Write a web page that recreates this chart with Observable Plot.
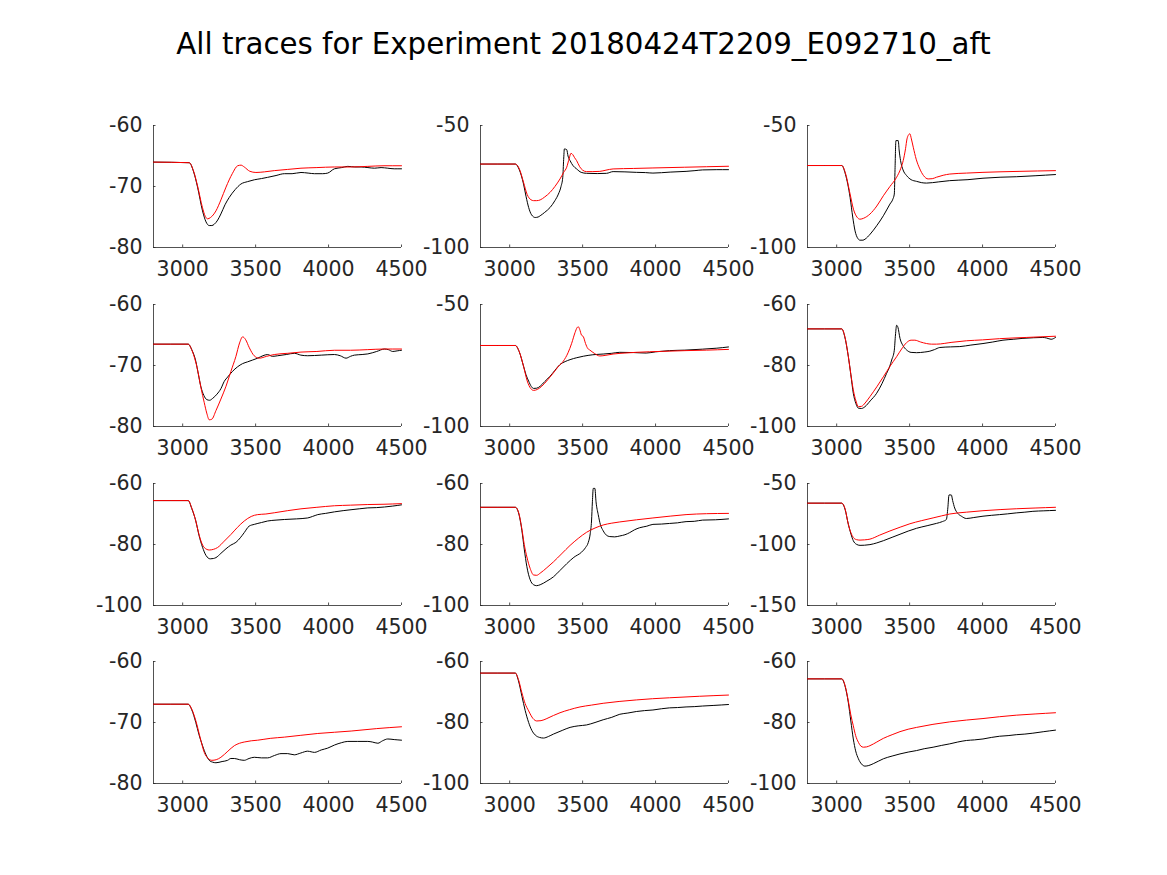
<!DOCTYPE html>
<html><head><meta charset="utf-8">
<script src="https://cdn.jsdelivr.net/npm/d3@7"></script>
<script src="https://cdn.jsdelivr.net/npm/@observablehq/plot@0.6"></script>
<style>
body{margin:0;background:#fff;}
#fig{position:relative;width:1167px;height:875px;background:#fff;font-family:"DejaVu Sans",sans-serif;overflow:hidden;}
#title{position:absolute;left:0;width:1167px;top:30px;text-align:center;font-size:29.3px;line-height:29px;color:#000;white-space:nowrap;}
.panel{position:absolute;}
</style></head><body>
<div id="fig"><div id="title">All traces for Experiment 20180424T2209_E092710_aft</div></div>
<script>
// ---- data ----
const xDomain = [2800, 4500];
const xTicks = [3000, 3500, 4000, 4500];
const yDomains = [
  [-80, -60], [-100, -50], [-100, -50],
  [-80, -60], [-100, -50], [-100, -60],
  [-100, -60], [-100, -60], [-150, -50],
  [-80, -60], [-100, -60], [-100, -60]
];
const yTickSets = [
  [-80, -70, -60], [-100, -50], [-100, -50],
  [-80, -70, -60], [-100, -50], [-100, -80, -60],
  [-100, -80, -60], [-100, -80, -60], [-150, -100, -50],
  [-80, -70, -60], [-100, -80, -60], [-100, -80, -60]
];

// measured traces (black)
const black1 = [[2800,-66],[3045,-66.1],[3075,-67.6],[3102,-70.1],[3136,-74],[3160,-75.8],[3182,-76.4],[3200,-76.4],[3216,-76.2],[3240,-75.5],[3262,-74.5],[3290,-73],[3319,-71.8],[3360,-70.5],[3399,-69.6],[3445,-69.2],[3491,-68.9],[3540,-68.7],[3582,-68.5],[3640,-68.2],[3697,-67.9],[3750,-67.9],[3811,-67.7],[3860,-67.8],[3903,-67.9],[3960,-67.9],[3994,-67.8],[4040,-67.1],[4090,-66.9],[4132,-66.7],[4180,-66.8],[4223,-66.8],[4270,-66.9],[4315,-67.0],[4360,-66.9],[4406,-67.0],[4450,-67.1],[4500,-67.1]];
const black2 = [[2800,-65.8],[3039,-65.8],[3065,-68],[3095,-74],[3112,-79],[3130,-83.6],[3150,-86.6],[3175,-87.7],[3195,-87.5],[3209,-87],[3240,-85.6],[3277,-83.6],[3310,-80.8],[3334,-78.1],[3352,-75],[3364,-71.2],[3370,-64],[3375,-59.6],[3391,-59.9],[3400,-62.5],[3414,-64.4],[3435,-66.5],[3459,-67.8],[3490,-69.2],[3527,-69.6],[3600,-69.7],[3664,-69.6],[3709,-68.9],[3790,-69],[3868,-69.2],[3930,-69.3],[3982,-69.5],[4100,-69.1],[4209,-68.8],[4270,-68.5],[4323,-68.2],[4420,-68.1],[4500,-68.1]];
const black3 = [[2800,-66.4],[3035,-66.4],[3060,-70],[3092,-79.5],[3110,-87.5],[3126,-93.2],[3145,-96.3],[3160,-97],[3180,-97],[3194,-96.6],[3230,-94.5],[3274,-91.1],[3320,-87],[3365,-82.2],[3385,-80.2],[3395,-78.1],[3400,-68],[3406,-56.2],[3422,-56.2],[3428,-60],[3438,-64.4],[3455,-68.2],[3479,-70.5],[3510,-72.2],[3548,-72.9],[3580,-73.4],[3616,-73.6],[3700,-73.1],[3775,-72.6],[3900,-72.2],[4003,-71.6],[4120,-71.2],[4231,-71],[4360,-70.6],[4500,-70.1]];
const black4 = [[2800,-66.5],[3038,-66.5],[3062,-67.4],[3090,-69.3],[3108,-71.5],[3125,-73.5],[3145,-74.9],[3166,-75.6],[3185,-75.7],[3205,-75.4],[3235,-74.7],[3262,-73.8],[3285,-72.6],[3308,-71.9],[3340,-71],[3377,-70.2],[3410,-69.7],[3445,-69.4],[3480,-69.1],[3514,-68.8],[3550,-68.4],[3582,-68.2],[3615,-68.5],[3651,-68.4],[3710,-68.2],[3766,-68.0],[3810,-68.3],[3857,-68.4],[3950,-68.3],[4040,-68.2],[4080,-68.4],[4120,-68.8],[4150,-68.5],[4177,-68.3],[4230,-68.2],[4269,-68.1],[4330,-67.7],[4383,-67.3],[4410,-67.4],[4440,-67.7],[4470,-67.6],[4500,-67.5]];
const black5 = [[2800,-66.8],[3039,-66.8],[3065,-69.3],[3095,-75.3],[3112,-78.8],[3130,-81.4],[3148,-83.6],[3164,-84.4],[3185,-84.3],[3209,-83.5],[3240,-81.6],[3277,-79.4],[3310,-77],[3345,-74.6],[3380,-73.4],[3414,-72.6],[3460,-71.8],[3505,-71.2],[3570,-70.6],[3641,-70.3],[3700,-70],[3755,-69.6],[3850,-69.7],[3936,-69.9],[4000,-69.4],[4095,-68.9],[4200,-68.7],[4323,-68.3],[4420,-67.9],[4500,-67.4]];
const black6 = [[2800,-68],[3035,-68],[3055,-70.5],[3080,-77.1],[3097,-83],[3114,-89.1],[3132,-92.5],[3149,-94],[3170,-94.1],[3194,-93.5],[3230,-91.6],[3274,-89.1],[3310,-86],[3342,-82.6],[3362,-80.5],[3377,-78.2],[3395,-75],[3403,-70],[3411,-66.8],[3420,-67.5],[3434,-71.1],[3455,-73.5],[3479,-74.9],[3510,-75.7],[3548,-75.8],[3600,-75.6],[3639,-75.3],[3670,-74.8],[3707,-74.1],[3780,-73.9],[3844,-73.8],[3920,-73.3],[4003,-72.8],[4070,-72.3],[4140,-71.7],[4210,-71.4],[4277,-71.1],[4350,-70.9],[4413,-70.8],[4440,-71],[4470,-71.4],[4500,-70.8]];
const black7 = [[2800,-65.6],[3038,-65.6],[3062,-68.2],[3090,-72.3],[3112,-77],[3136,-80.9],[3160,-83.6],[3189,-84.7],[3210,-84.6],[3228,-84.3],[3262,-82.9],[3297,-81.4],[3330,-80.2],[3365,-79.3],[3395,-77.8],[3422,-76.1],[3455,-74],[3491,-73.4],[3540,-72.8],[3582,-72.3],[3640,-72],[3697,-71.8],[3780,-71.6],[3857,-71.3],[3890,-70.8],[3926,-70.2],[3980,-69.8],[4040,-69.3],[4100,-68.9],[4154,-68.6],[4210,-68.3],[4269,-68.0],[4330,-67.9],[4383,-67.7],[4440,-67.4],[4500,-67.0]];
const black8 = [[2800,-67.8],[3039,-67.8],[3060,-69.5],[3084,-75.5],[3100,-81.5],[3118,-87.3],[3140,-91.5],[3164,-93.2],[3185,-93.5],[3209,-93.2],[3255,-92],[3300,-90.6],[3345,-88.5],[3391,-86.3],[3440,-84.2],[3493,-82.5],[3520,-81],[3539,-79.3],[3552,-76.5],[3561,-72.3],[3567,-66],[3573,-61.6],[3584,-61.6],[3592,-66],[3607,-70.2],[3622,-73.5],[3641,-75.5],[3662,-76.9],[3686,-77.4],[3720,-77.5],[3755,-77.2],[3790,-76.8],[3823,-76.1],[3855,-75.2],[3891,-74.5],[3940,-74],[3982,-73.4],[4040,-73.3],[4095,-73.1],[4150,-72.9],[4209,-72.5],[4265,-72.4],[4323,-72.0],[4410,-71.9],[4500,-71.6]];
const black9 = [[2800,-66.1],[3035,-66.1],[3057,-71],[3080,-83.5],[3098,-91.5],[3114,-96.9],[3135,-99.8],[3160,-100.7],[3190,-100.6],[3228,-100.1],[3275,-98.7],[3320,-96.9],[3380,-94.1],[3434,-91.6],[3490,-89],[3548,-86.7],[3620,-84.6],[3684,-82.7],[3725,-81.2],[3752,-79.5],[3762,-70],[3770,-59.4],[3786,-59.4],[3795,-64],[3809,-70.1],[3830,-74.5],[3855,-76.8],[3889,-78.7],[3940,-77.9],[4003,-76.8],[4060,-76.1],[4117,-75.5],[4170,-74.9],[4231,-74.1],[4290,-73.5],[4345,-72.8],[4420,-72.4],[4500,-72.0]];
const black10 = [[2800,-67],[3038,-67],[3062,-67.9],[3090,-70],[3112,-72],[3136,-73.8],[3160,-75.3],[3182,-76.2],[3205,-76.5],[3228,-76.6],[3270,-76.4],[3308,-76.2],[3330,-75.9],[3354,-75.9],[3390,-76.1],[3422,-76.2],[3455,-75.9],[3491,-75.7],[3540,-75.8],[3582,-75.8],[3630,-75.4],[3674,-75.1],[3720,-75.1],[3765,-75.3],[3810,-75],[3857,-74.7],[3880,-74.8],[3903,-74.9],[3950,-74.5],[3994,-74.2],[4040,-73.7],[4090,-73.3],[4132,-73.1],[4200,-73.1],[4269,-73.1],[4300,-73.2],[4338,-73.4],[4370,-73],[4406,-72.7],[4450,-72.8],[4500,-72.9]];
const black11 = [[2800,-63.8],[3039,-63.8],[3060,-66.3],[3084,-71.4],[3106,-76],[3130,-80],[3152,-82.6],[3175,-84.1],[3205,-84.9],[3232,-85.1],[3265,-84.6],[3300,-83.8],[3360,-82.6],[3414,-81.6],[3470,-81.1],[3527,-80.8],[3585,-80],[3641,-79.1],[3700,-78.3],[3755,-77.3],[3810,-76.9],[3868,-76.4],[3925,-76.1],[3982,-75.9],[4040,-75.5],[4095,-75.2],[4150,-75.1],[4209,-74.9],[4265,-74.8],[4323,-74.6],[4400,-74.4],[4500,-74.1]];
const black12 = [[2800,-65.7],[3035,-65.7],[3057,-68],[3080,-73.5],[3097,-79.5],[3114,-85.4],[3130,-89.3],[3149,-91.9],[3170,-93.6],[3194,-94.3],[3220,-94.1],[3251,-93.5],[3285,-92.7],[3320,-91.9],[3380,-91],[3434,-90.3],[3490,-89.7],[3548,-89.2],[3600,-88.6],[3661,-88.1],[3720,-87.5],[3775,-87.0],[3830,-86.4],[3889,-85.9],[3945,-85.7],[4003,-85.4],[4060,-84.9],[4117,-84.5],[4175,-84.3],[4231,-84.0],[4290,-83.8],[4345,-83.5],[4420,-83],[4500,-82.5]];

// model traces (red)
const red1 = [[2800,-66],[3045,-66.1],[3075,-67.5],[3102,-69.9],[3135,-73.4],[3155,-74.9],[3171,-75.3],[3190,-75.1],[3228,-74.0],[3262,-72.2],[3297,-70.1],[3340,-67.9],[3377,-66.6],[3400,-66.5],[3422,-66.8],[3460,-67.5],[3502,-67.7],[3560,-67.6],[3628,-67.4],[3720,-67.2],[3811,-67.0],[3920,-66.9],[4040,-66.8],[4150,-66.8],[4269,-66.7],[4380,-66.6],[4500,-66.6]];
const red2 = [[2800,-65.8],[3039,-65.8],[3065,-67.6],[3095,-73.3],[3120,-78.3],[3145,-80.4],[3164,-80.8],[3185,-80.8],[3209,-80.5],[3240,-79.3],[3277,-77.4],[3310,-75],[3345,-71.9],[3370,-69.2],[3391,-67.1],[3408,-63.5],[3420,-61.4],[3432,-61.9],[3445,-63.2],[3459,-64.4],[3480,-66.9],[3500,-68.3],[3527,-68.9],[3570,-68.9],[3618,-68.8],[3660,-68.3],[3709,-67.8],[3850,-67.6],[3982,-67.4],[4200,-67.1],[4500,-66.7]];
const red3 = [[2800,-66.4],[3035,-66.4],[3060,-69.5],[3092,-78.1],[3115,-84.3],[3140,-87.6],[3160,-88.4],[3185,-88],[3228,-86.3],[3275,-83],[3320,-78.8],[3365,-75],[3411,-71.2],[3440,-67.5],[3456,-64.4],[3472,-59.5],[3482,-55.5],[3490,-54.1],[3502,-53.4],[3512,-55.5],[3525,-58.9],[3545,-63.8],[3570,-67.8],[3595,-70.5],[3627,-71.9],[3655,-71.8],[3684,-71.2],[3730,-70.4],[3775,-69.9],[3890,-69.5],[4003,-69.2],[4250,-68.8],[4500,-68.5]];
const red4 = [[2800,-66.5],[3038,-66.5],[3065,-67.6],[3102,-70.7],[3125,-73.6],[3148,-76.1],[3165,-77.8],[3182,-78.9],[3200,-78.8],[3228,-77.4],[3262,-75.5],[3297,-73.4],[3330,-71],[3365,-68.5],[3390,-66.3],[3411,-65.3],[3430,-65.7],[3457,-67.1],[3490,-68.4],[3525,-68.8],[3575,-68.5],[3628,-68.2],[3720,-68],[3811,-67.8],[3920,-67.7],[4040,-67.5],[4150,-67.5],[4269,-67.4],[4380,-67.3],[4500,-67.3]];
const red5 = [[2800,-66.8],[3039,-66.8],[3065,-69.2],[3095,-75.3],[3120,-81.3],[3145,-84.5],[3164,-85.2],[3190,-84.8],[3220,-83.5],[3260,-80.9],[3300,-78.0],[3335,-75.3],[3368,-73.2],[3400,-69.8],[3425,-65.9],[3448,-61.5],[3462,-59.5],[3470,-59.1],[3480,-60.2],[3492,-62.5],[3505,-63.2],[3520,-66],[3535,-68],[3550,-68.7],[3580,-70],[3618,-71.1],[3660,-70.8],[3709,-70.3],[3790,-69.9],[3868,-69.6],[4050,-69.2],[4209,-68.9],[4350,-68.7],[4500,-68.4]];
const red6 = [[2800,-68],[3035,-68],[3055,-70.3],[3080,-77.1],[3097,-82.8],[3114,-88.0],[3132,-91.6],[3149,-93.5],[3170,-93.4],[3195,-92.3],[3228,-90.2],[3275,-87],[3320,-83.7],[3365,-80.3],[3411,-77.1],[3445,-74.6],[3479,-72.5],[3510,-71.7],[3536,-71.7],[3575,-72.3],[3616,-72.8],[3650,-73],[3684,-73.0],[3790,-72.4],[3889,-71.9],[4000,-71.6],[4117,-71.2],[4300,-70.8],[4500,-70.4]];
const red7 = [[2800,-65.6],[3038,-65.6],[3062,-68],[3090,-72.3],[3108,-76],[3125,-78.8],[3150,-81.1],[3182,-81.8],[3210,-81.6],[3239,-81.0],[3285,-78.9],[3331,-76.7],[3375,-74.4],[3422,-72.3],[3470,-70.8],[3514,-70.2],[3570,-70],[3628,-69.6],[3720,-68.9],[3811,-68.3],[3920,-67.8],[4040,-67.3],[4150,-67.1],[4269,-66.9],[4380,-66.8],[4500,-66.6]];
const red8 = [[2800,-67.8],[3039,-67.8],[3060,-69.3],[3084,-75.0],[3100,-80],[3118,-84.1],[3140,-87.8],[3164,-90.0],[3185,-90.1],[3209,-89.4],[3255,-87.6],[3300,-85.7],[3355,-83.1],[3414,-80.3],[3470,-78],[3527,-76.0],[3585,-74.6],[3641,-73.6],[3700,-73],[3755,-72.6],[3870,-71.9],[3982,-71.3],[4100,-70.7],[4209,-70.2],[4350,-69.9],[4500,-69.8]];
const red9 = [[2800,-66.1],[3035,-66.1],[3057,-70.5],[3080,-83.5],[3098,-90.5],[3114,-94.2],[3135,-96],[3160,-96.4],[3190,-96.2],[3228,-95.6],[3295,-92.3],[3365,-88.9],[3435,-85.8],[3502,-83.0],[3580,-80.5],[3661,-78.2],[3720,-76.5],[3775,-75.0],[3890,-73.5],[4003,-72.3],[4120,-71.4],[4231,-70.7],[4360,-70.1],[4500,-69.5]];
const red10 = [[2800,-67],[3038,-67],[3062,-67.8],[3090,-69.7],[3120,-72.5],[3148,-74.9],[3175,-75.9],[3200,-76.2],[3230,-76.1],[3262,-75.7],[3310,-74.7],[3354,-73.8],[3390,-73.4],[3422,-73.2],[3470,-73],[3514,-72.9],[3600,-72.6],[3697,-72.4],[3810,-72.1],[3926,-71.8],[4040,-71.6],[4155,-71.4],[4330,-71],[4500,-70.7]];
const red11 = [[2800,-63.8],[3039,-63.8],[3060,-65.9],[3084,-70.3],[3106,-73.8],[3130,-76.2],[3160,-78.7],[3186,-79.5],[3215,-79.4],[3255,-78.7],[3300,-77.7],[3345,-76.8],[3410,-75.8],[3482,-74.9],[3560,-74.3],[3641,-73.7],[3750,-73.1],[3868,-72.6],[3980,-72.2],[4095,-71.9],[4300,-71.4],[4500,-71.0]];
const red12 = [[2800,-65.7],[3035,-65.7],[3057,-67.8],[3080,-73.0],[3097,-77.5],[3114,-81.1],[3130,-84.3],[3149,-86.5],[3165,-87.7],[3183,-88.1],[3205,-88],[3228,-87.6],[3275,-86.4],[3320,-85.2],[3380,-84],[3434,-83.0],[3490,-82.2],[3548,-81.6],[3660,-80.6],[3775,-79.8],[3890,-79.2],[4003,-78.7],[4117,-78.1],[4231,-77.6],[4360,-77.2],[4500,-76.8]];

const blackSeries = [black1,black2,black3,black4,black5,black6,black7,black8,black9,black10,black11,black12];
const redSeries = [red1,red2,red3,red4,red5,red6,red7,red8,red9,red10,red11,red12];

// ---- layout ----
const colLefts = [153, 480, 807];
const rowTops = [125, 304, 483, 661];
const innerW = 248, innerH = 122;
const ML = 66, MR = 34, MT = 14, MB = 46;
const axisColor = "#262626";
const tickFont = 20.5;
const fig = document.getElementById("fig");

blackSeries.forEach((black, i) => {
  const red = redSeries[i];
  const yDomain = yDomains[i];
  const yTicks = yTickSets[i];
  const chart = Plot.plot({
    width: ML + innerW + MR,
    height: MT + innerH + MB,
    marginLeft: ML, marginRight: MR, marginTop: MT, marginBottom: MB,
    style: {background: "transparent", fontFamily: "'DejaVu Sans', sans-serif", fontSize: tickFont + "px", color: axisColor, overflow: "visible"},
    x: {domain: xDomain},
    y: {domain: yDomain},
    marks: [
      Plot.axisX({ticks: xTicks, tickSize: 0, tickPadding: 14, fontSize: tickFont, tickFormat: d => String(d), label: null}),
      Plot.axisY({ticks: yTicks, tickSize: 0, tickPadding: 11, fontSize: tickFont, tickFormat: d => String(d), label: null}),
      Plot.ruleX(xTicks, {x: d => d, insetTop: innerH - 2.5, stroke: axisColor, strokeWidth: 0.8}),
      Plot.ruleY(yTicks, {y: d => d, insetRight: innerW - 2.5, stroke: axisColor, strokeWidth: 0.8}),
      Plot.ruleX([xDomain[0]], {stroke: axisColor, strokeWidth: 0.8}),
      Plot.ruleY([yDomain[0]], {stroke: axisColor, strokeWidth: 0.8}),
      Plot.line(black, {x: d => d[0], y: d => d[1], stroke: "#000000", strokeWidth: 1, curve: "monotone-x"}),
      Plot.line(red, {x: d => d[0], y: d => d[1], stroke: "#ff0000", strokeWidth: 1, curve: "monotone-x"})
    ]
  });
  chart.classList.add("panel");
  chart.style.left = (colLefts[i % 3] - ML) + "px";
  chart.style.top = (rowTops[Math.floor(i / 3)] - MT) + "px";
  chart.style.maxWidth = "none";
  fig.appendChild(chart);
});
</script>
</body></html>
